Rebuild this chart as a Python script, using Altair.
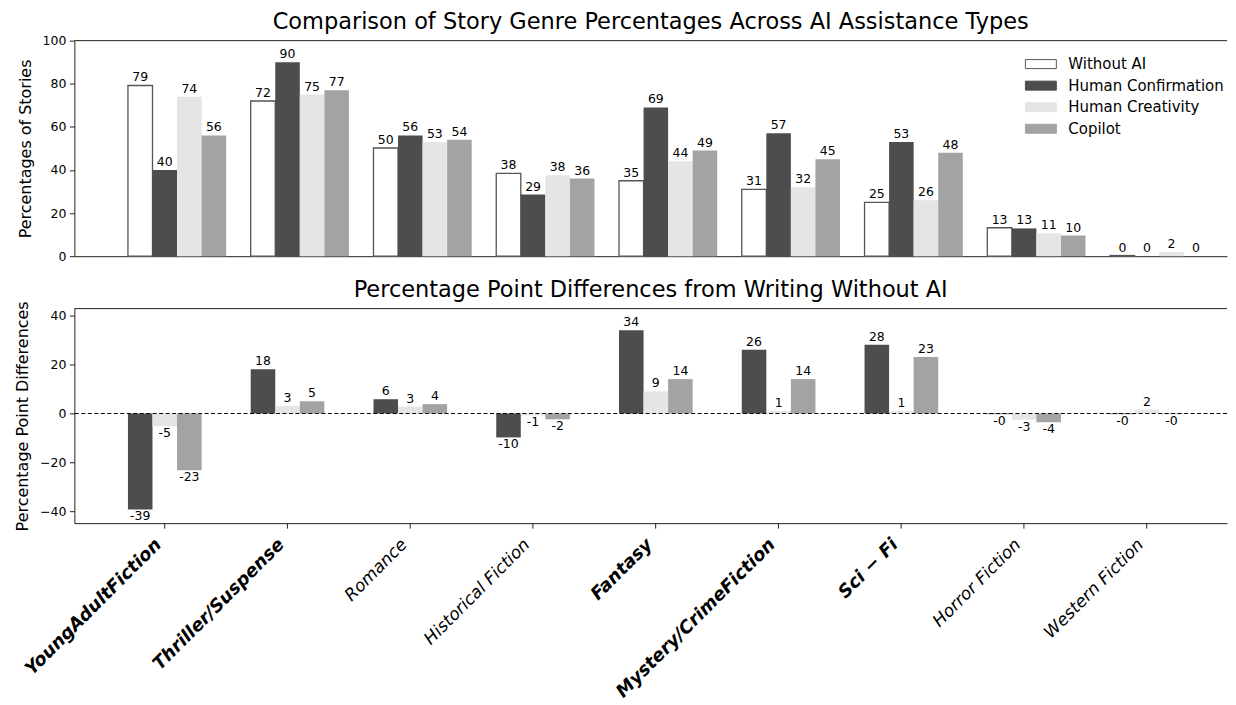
import json
import altair as alt
import pandas as pd

# ---------------- data ----------------
genres = [
    "YoungAdultFiction", "Thriller/Suspense", "Romance", "Historical Fiction",
    "Fantasy", "Mystery/CrimeFiction", "Sci − Fi", "Horror Fiction", "Western Fiction",
]
bold_genres = ["YoungAdultFiction", "Thriller/Suspense", "Fantasy", "Mystery/CrimeFiction", "Sci − Fi"]

series = ["Without AI", "Human Confirmation", "Human Creativity", "Copilot"]
diff_series = ["Human Confirmation", "Human Creativity", "Copilot"]
fill_colors = ["#ffffff", "#4d4d4d", "#e5e5e5", "#a3a3a3"]
edge_colors = ["#555555", "#4d4d4d", "#e5e5e5", "#a3a3a3"]

without_ai = [79.2, 72.0, 50.2, 38.4, 35.0, 31.0, 25.0, 13.2, 0.3]
human_confirmation = [40.0, 90.0, 56.0, 28.6, 69.0, 57.0, 53.0, 12.9, 0.0]
human_creativity = [74.0, 75.0, 53.0, 37.6, 44.0, 32.0, 26.0, 10.6, 1.9]
copilot = [56.0, 77.0, 54.0, 36.0, 49.0, 45.0, 48.0, 9.6, 0.0]

diff_confirmation = [-39.2, 18.0, 5.8, -9.8, 34.0, 26.0, 28.0, -0.3, -0.3]
diff_creativity = [-5.2, 3.0, 2.8, -0.8, 9.0, 1.0, 1.0, -2.6, 1.6]
diff_copilot = [-23.2, 5.0, 3.8, -2.4, 14.0, 14.0, 23.0, -3.6, -0.3]

top_df = pd.DataFrame(
    [{"genre": g, "series": s, "value": v}
     for s, vals in zip(series, [without_ai, human_confirmation, human_creativity, copilot])
     for g, v in zip(genres, vals)]
)
diff_df = pd.DataFrame(
    [{"genre": g, "series": s, "value": v}
     for s, vals in zip(diff_series, [diff_confirmation, diff_creativity, diff_copilot])
     for g, v in zip(genres, vals)]
)

FONT = "DejaVu Sans"
VAL_FS = 12.5
LABEL_EXPR = "(datum.value < 0 ? '-' : '') + format(abs(datum.value), '.0f')"
bold_test = "indexof(" + json.dumps(bold_genres, ensure_ascii=False) + ", datum.value) >= 0"

PLOT_W = 1155


def x_enc(axis):
    return alt.X(
        "genre:N", sort=genres, title=None,
        scale=alt.Scale(paddingInner=0, paddingOuter=0.1944, align=0.608),
        axis=axis,
    )


legend = alt.Legend(
    orient="none", legendX=961, legendY=16, title=None,
    symbolType="M-3.1,-0.9L3.1,-0.9L3.1,0.9L-3.1,0.9Z", symbolSize=100,
    symbolStrokeWidth=1, labelFontSize=15, labelFont=FONT, labelColor="black",
    labelOffset=20, rowPadding=5.6, padding=0,
)

# ---------------- top chart ----------------
top_x_axis = alt.Axis(labels=False, ticks=False, title=None, domain=True)
top_xoff = alt.XOffset("series:N", scale=alt.Scale(domain=["_gap"] + series, paddingInner=0, paddingOuter=0))
top_y = alt.Y(
    "value:Q",
    scale=alt.Scale(domain=[0, 100], nice=False),
    axis=alt.Axis(values=[0, 20, 40, 60, 80, 100], title="Percentages of Stories", titlePadding=9),
)

top_base = alt.Chart(top_df).transform_calculate(label=LABEL_EXPR)

top_bars = top_base.mark_bar().encode(
    x=x_enc(top_x_axis),
    xOffset=top_xoff,
    y=top_y,
    fill=alt.Fill("series:N", sort=series, scale=alt.Scale(domain=series, range=fill_colors), legend=legend),
    stroke=alt.Stroke("series:N", sort=series, scale=alt.Scale(domain=series, range=edge_colors), legend=legend),
    strokeWidth=alt.condition(alt.datum.series == "Without AI", alt.value(1.3), alt.value(0)),
)
top_text = top_base.mark_text(baseline="bottom", dy=-1, fontSize=VAL_FS, font=FONT, color="black").encode(
    x=x_enc(top_x_axis), xOffset=top_xoff, y=top_y, text="label:N"
)
top_spine = alt.Chart(pd.DataFrame({"edge": [0]})).mark_rule(color="#222", strokeWidth=1).encode(y=alt.value(0))

top_chart = alt.layer(top_bars, top_text, top_spine).properties(
    width=PLOT_W, height=216,
    title=alt.TitleParams(
        "Comparison of Story Genre Percentages Across AI Assistance Types",
        fontSize=22.5, fontWeight="normal", font=FONT, color="black",
        anchor="middle", frame="group", baseline="bottom", offset=-22,
    ),
)

# ---------------- bottom chart ----------------
bottom_x_axis = alt.Axis(
    labelAngle=315, labelAlign="right", labelBaseline="middle",
    labelFontSize={"condition": {"test": bold_test, "value": 18}, "value": 17},
    labelFontStyle="italic",
    labelFontWeight={"condition": {"test": bold_test, "value": "bold"}, "value": "normal"},
    labelPadding=13.5, labelOffset=-6, labelLimit=400, tickSize=5, title=None,
)
bot_xoff = alt.XOffset("series:N", scale=alt.Scale(domain=["_gap"] + diff_series + ["_gap2"], paddingInner=0, paddingOuter=0))
bot_y = alt.Y(
    "value:Q",
    scale=alt.Scale(domain=[-44.8, 42.8], nice=False),
    axis=alt.Axis(values=[-40, -20, 0, 20, 40], title="Percentage Point Differences", titlePadding=9),
)

bot_base = alt.Chart(diff_df).transform_calculate(label=LABEL_EXPR)

bot_bars = bot_base.mark_bar().encode(
    x=x_enc(bottom_x_axis),
    xOffset=bot_xoff,
    y=bot_y,
    fill=alt.Fill("series:N", scale=alt.Scale(domain=series, range=fill_colors), legend=None),
)
bot_text_pos = bot_base.transform_filter("datum.value >= 0").mark_text(
    baseline="bottom", dy=-1, fontSize=VAL_FS, font=FONT, color="black"
).encode(x=x_enc(bottom_x_axis), xOffset=bot_xoff, y=bot_y, text="label:N")
bot_text_neg = bot_base.transform_filter("datum.value < 0").mark_text(
    baseline="top", dy=1, fontSize=VAL_FS, font=FONT, color="black"
).encode(x=x_enc(bottom_x_axis), xOffset=bot_xoff, y=bot_y, text="label:N")
zero_line = alt.Chart(pd.DataFrame({"zero": [0]})).mark_rule(
    color="black", strokeDash=[4, 2.5], strokeWidth=1.1
).encode(y=alt.Y("zero:Q"))
bot_spine = alt.Chart(pd.DataFrame({"edge": [0]})).mark_rule(color="#222", strokeWidth=1).encode(y=alt.value(0))

bottom_chart = alt.layer(bot_bars, zero_line, bot_text_pos, bot_text_neg, bot_spine).properties(
    width=PLOT_W, height=215,
    title=alt.TitleParams(
        "Percentage Point Differences from Writing Without AI",
        fontSize=22.5, fontWeight="normal", font=FONT, color="black",
        anchor="middle", frame="group", baseline="bottom", offset=-24,
    ),
)

chart = (
    alt.vconcat(top_chart, bottom_chart, spacing=15.5)
    .resolve_scale(x="independent", xOffset="independent", y="independent", fill="independent", stroke="independent")
    .resolve_legend(fill="independent", stroke="independent")
    .properties(padding={"left": 6.5, "top": 2, "right": 0, "bottom": 0})
    .configure_view(stroke=None)
    .configure_axis(
        labelFont=FONT, titleFont=FONT, labelFontSize=12.5, titleFontSize=16,
        titleFontWeight="normal", labelColor="black", titleColor="black",
        tickColor="#222", domainColor="#222", domainWidth=1, tickWidth=1,
        tickSize=5, labelPadding=3.5, grid=False,
    )
)

chart.save("out.html", embed_options={"renderer": "svg", "actions": False})
